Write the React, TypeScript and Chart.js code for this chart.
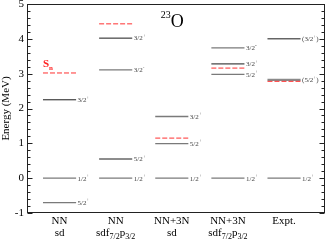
import React, { useEffect, useRef } from "react";
import { Chart, registerables } from "chart.js";
Chart.register(...registerables);

const columnPositions = [1, 2, 3, 4, 5];
const columnTopLabels = ["NN", "NN", "NN+3N", "NN+3N", "Expt."];
const columnBottomLabels = ["sd", "sdf_7/2p_3/2", "sd", "sdf_7/2p_3/2", ""];

// level energies (MeV), spin labels and shade (d = dark, g = gray, t = thick gray) per column
const nnSdEnergies = [-0.7, 0.0, 2.25];
const nnSdSpins = ["5/2+", "1/2+", "3/2+"];
const nnSdShades = ["g", "g", "d"];

const nnSdfpEnergies = [0.0, 0.55, 3.11, 4.02];
const nnSdfpSpins = ["1/2+", "5/2+", "3/2-", "3/2+"];
const nnSdfpShades = ["g", "d", "g", "d"];

const nn3nSdEnergies = [0.0, 0.99, 1.77];
const nn3nSdSpins = ["1/2+", "5/2+", "3/2+"];
const nn3nSdShades = ["g", "g", "g"];

const nn3nSdfpEnergies = [0.0, 2.98, 3.28, 3.74];
const nn3nSdfpSpins = ["1/2+", "5/2+", "3/2+", "3/2-"];
const nn3nSdfpShades = ["g", "g", "d", "g"];

const exptEnergies = [0.0, 2.82, 4.0];
const exptSpins = ["1/2+", "(5/2+)", "(3/2+)"];
const exptShades = ["g", "t", "d"];

// neutron separation energies (red dashed)
const snEnergies = [3.02, 4.43, 1.15, 3.16, 2.78];

const yMin = -1;
const yMax = 5;

const SERIF = "'Liberation Serif', 'DejaVu Serif', serif";

export default function App() {
  const ref = useRef<HTMLCanvasElement | null>(null);
  useEffect(() => {
    if (!ref.current) return;
    const energies = [nnSdEnergies, nnSdfpEnergies, nn3nSdEnergies, nn3nSdfpEnergies, exptEnergies];
    const spins = [nnSdSpins, nnSdfpSpins, nn3nSdSpins, nn3nSdfpSpins, exptSpins];
    const shades = [nnSdShades, nnSdfpShades, nn3nSdShades, nn3nSdfpShades, exptShades];
    const hw = 0.295;
    const datasets: any[] = [];
    columnPositions.forEach((c, i) => {
      datasets.push({
        data: [{ x: c - hw, y: snEnergies[i] }, { x: c + hw, y: snEnergies[i] }],
        borderColor: "#ff3030",
        borderWidth: 1,
        borderDash: [5, 2],
        pointRadius: 0,
        isSn: true,
        col: i,
      });
      energies[i].forEach((e, j) => {
        const s = shades[i][j];
        datasets.push({
          data: [{ x: c - hw, y: e }, { x: c + hw, y: e }],
          borderColor: s === "d" ? "#1a1a1a" : s === "t" ? "#8a8a8a" : "#7a7a7a",
          borderWidth: s === "t" ? 2.2 : s === "d" ? 1 : 1.3,
          pointRadius: 0,
          spin: spins[i][j],
        });
      });
    });

    const drawSpin = (ctx: CanvasRenderingContext2D, label: string, x: number, y: number) => {
      const m = label.match(/^(.*?)([+-])(.*)$/);
      ctx.fillStyle = "#444";
      ctx.textBaseline = "middle";
      ctx.textAlign = "left";
      if (!m) {
        ctx.font = `7px ${SERIF}`;
        ctx.fillText(label, x, y);
        return;
      }
      ctx.font = `7px ${SERIF}`;
      ctx.fillText(m[1], x, y + 0.5);
      let cx = x + ctx.measureText(m[1]).width;
      ctx.font = `5px ${SERIF}`;
      ctx.fillText(m[2], cx, y - 2.5);
      cx += ctx.measureText(m[2]).width;
      if (m[3]) {
        ctx.font = `7px ${SERIF}`;
        ctx.fillText(m[3], cx, y + 0.5);
      }
    };

    const drawMixed = (ctx: CanvasRenderingContext2D, text: string, cx: number, baseline: number) => {
      const parts: { t: string; sub: boolean }[] = [];
      const re = /_([0-9/]+)/g;
      let last = 0;
      let mm: RegExpExecArray | null;
      while ((mm = re.exec(text))) {
        if (mm.index > last) parts.push({ t: text.slice(last, mm.index), sub: false });
        parts.push({ t: mm[1], sub: true });
        last = mm.index + mm[0].length;
      }
      if (last < text.length) parts.push({ t: text.slice(last), sub: false });
      let total = 0;
      parts.forEach((p) => {
        ctx.font = p.sub ? `8px ${SERIF}` : `11px ${SERIF}`;
        total += ctx.measureText(p.t).width;
      });
      let x = cx - total / 2;
      ctx.textAlign = "left";
      ctx.textBaseline = "alphabetic";
      parts.forEach((p) => {
        ctx.font = p.sub ? `8px ${SERIF}` : `11px ${SERIF}`;
        ctx.fillText(p.t, x, baseline + (p.sub ? 3 : 0));
        x += ctx.measureText(p.t).width;
      });
    };

    const decor = {
      id: "decor",
      afterDraw(chart: any) {
        const ctx: CanvasRenderingContext2D = chart.ctx;
        const a = chart.chartArea;
        const ys = chart.scales.y;
        const xs = chart.scales.x;
        ctx.save();
        ctx.strokeStyle = "#222";
        ctx.lineWidth = 1;
        const L = Math.round(a.left) + 0.5;
        const R = Math.round(a.right) - 0.5;
        const T = Math.round(a.top) + 0.5;
        const B = Math.round(a.bottom) - 0.5;
        ctx.strokeRect(L, T, R - L, B - T);
        ctx.beginPath();
        for (let k = 0; k <= (yMax - yMin) * 5; k++) {
          const v = yMin + k * 0.2;
          const py = Math.round(ys.getPixelForValue(v)) + 0.5;
          const len = k % 5 === 0 ? 5 : 3;
          ctx.moveTo(L, py);
          ctx.lineTo(L + len, py);
          ctx.moveTo(R, py);
          ctx.lineTo(R - len, py);
        }
        ctx.stroke();
        chart.data.datasets.forEach((ds: any, di: number) => {
          if (!ds.spin) return;
          const meta = chart.getDatasetMeta(di);
          const p = meta.data[1];
          drawSpin(ctx, ds.spin, p.x + 1.5, p.y);
        });
        const di0 = chart.data.datasets.findIndex((d: any) => d.isSn && d.col === 0);
        if (di0 >= 0) {
          const p0 = chart.getDatasetMeta(di0).data[0];
          ctx.fillStyle = "#ff2020";
          ctx.textAlign = "left";
          ctx.textBaseline = "alphabetic";
          ctx.font = `bold 11px ${SERIF}`;
          ctx.fillText("S", p0.x, p0.y - 6);
          const w = ctx.measureText("S").width;
          ctx.font = `bold 7px ${SERIF}`;
          ctx.fillText("n", p0.x + w, p0.y - 3);
        }
        ctx.fillStyle = "#000";
        columnPositions.forEach((c, i) => {
          const px = xs.getPixelForValue(c);
          drawMixed(ctx, columnTopLabels[i], px, 224);
          if (columnBottomLabels[i]) drawMixed(ctx, columnBottomLabels[i], px, 236);
        });
        ctx.fillStyle = "#000";
        ctx.textAlign = "left";
        ctx.textBaseline = "alphabetic";
        const tx = xs.getPixelForValue(3) - 11;
        ctx.font = `10px ${SERIF}`;
        ctx.fillText("23", tx, 18);
        const tw = ctx.measureText("23").width;
        ctx.font = `18px ${SERIF}`;
        ctx.fillText("O", tx + tw, 27);
        ctx.restore();
      },
    };

    const chart = new Chart(ref.current, {
      type: "line",
      data: { datasets },
      options: {
        animation: false,
        responsive: true,
        maintainAspectRatio: false,
        layout: { padding: { top: 4, right: 1, bottom: 28, left: 0 } },
        plugins: { legend: { display: false }, tooltip: { enabled: false }, title: { display: false } },
        scales: {
          x: { type: "linear", min: 0.42, max: 5.73, display: false },
          y: {
            type: "linear",
            min: yMin,
            max: yMax,
            grid: { display: false, drawTicks: false },
            border: { display: false },
            ticks: { stepSize: 1, padding: 3, color: "#000", font: { family: SERIF, size: 11 } },
            title: {
              display: true,
              text: "Energy (MeV)",
              color: "#000",
              padding: { top: 0, bottom: 0 },
              font: { family: SERIF, size: 11 },
            },
            afterFit: (s: any) => {
              s.width = 27;
              s.paddingTop = 0;
              s.paddingBottom = 0;
            },
          },
        },
      } as any,
      plugins: [decor],
    });
    return () => chart.destroy();
  }, []);
  return (
    <div style={{ position: "absolute", left: 0, top: 0, width: 326, height: 241, background: "#fff" }}>
      <canvas ref={ref} />
    </div>
  );
}
